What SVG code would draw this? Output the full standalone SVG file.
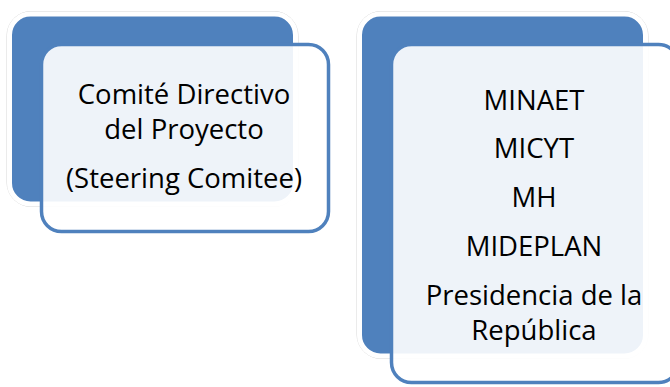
<svg xmlns="http://www.w3.org/2000/svg" width="670" height="387" viewBox="0 0 670 387">
  <style>
    .halo { fill: none; stroke: #d6d6d6; stroke-width: 1; }
    .back { fill: #4F81BD; stroke: #ffffff; stroke-width: 5; }
    .front { fill: #ffffff; fill-opacity: 0.9; stroke: #4F81BD; stroke-width: 3.5; }
    .label { font-family: "Open Sans", "Liberation Sans", sans-serif; font-size: 27.5px; fill: #000000; text-anchor: middle; }
  </style>
  <rect width="670" height="387" fill="#ffffff"/>
  <g id="node-comite">
    <rect class="halo" x="7" y="11.5" width="291" height="195" rx="24"/>
    <rect class="back" x="9.5" y="14" width="286" height="190" rx="21"/>
    <rect class="front" x="41.5" y="44.5" width="287" height="187" rx="20"/>
    <text class="label" x="184" y="104">Comité Directivo</text>
    <text class="label" x="184" y="139">del Proyecto</text>
    <text class="label" x="184" y="188">(Steering Comitee)</text>
  </g>
  <g id="node-miembros">
    <rect class="halo" x="357" y="11.5" width="291" height="347" rx="24"/>
    <rect class="back" x="359.5" y="14" width="286" height="342" rx="21"/>
    <rect class="front" x="391.5" y="44.5" width="287" height="338" rx="20"/>
    <text class="label" x="534" y="110">MINAET</text>
    <text class="label" x="534" y="158">MICYT</text>
    <text class="label" x="534" y="207">MH</text>
    <text class="label" x="534" y="256">MIDEPLAN</text>
    <text class="label" x="534" y="305">Presidencia de la</text>
    <text class="label" x="534" y="340">República</text>
  </g>
  <g id="connectors"></g>
</svg>
